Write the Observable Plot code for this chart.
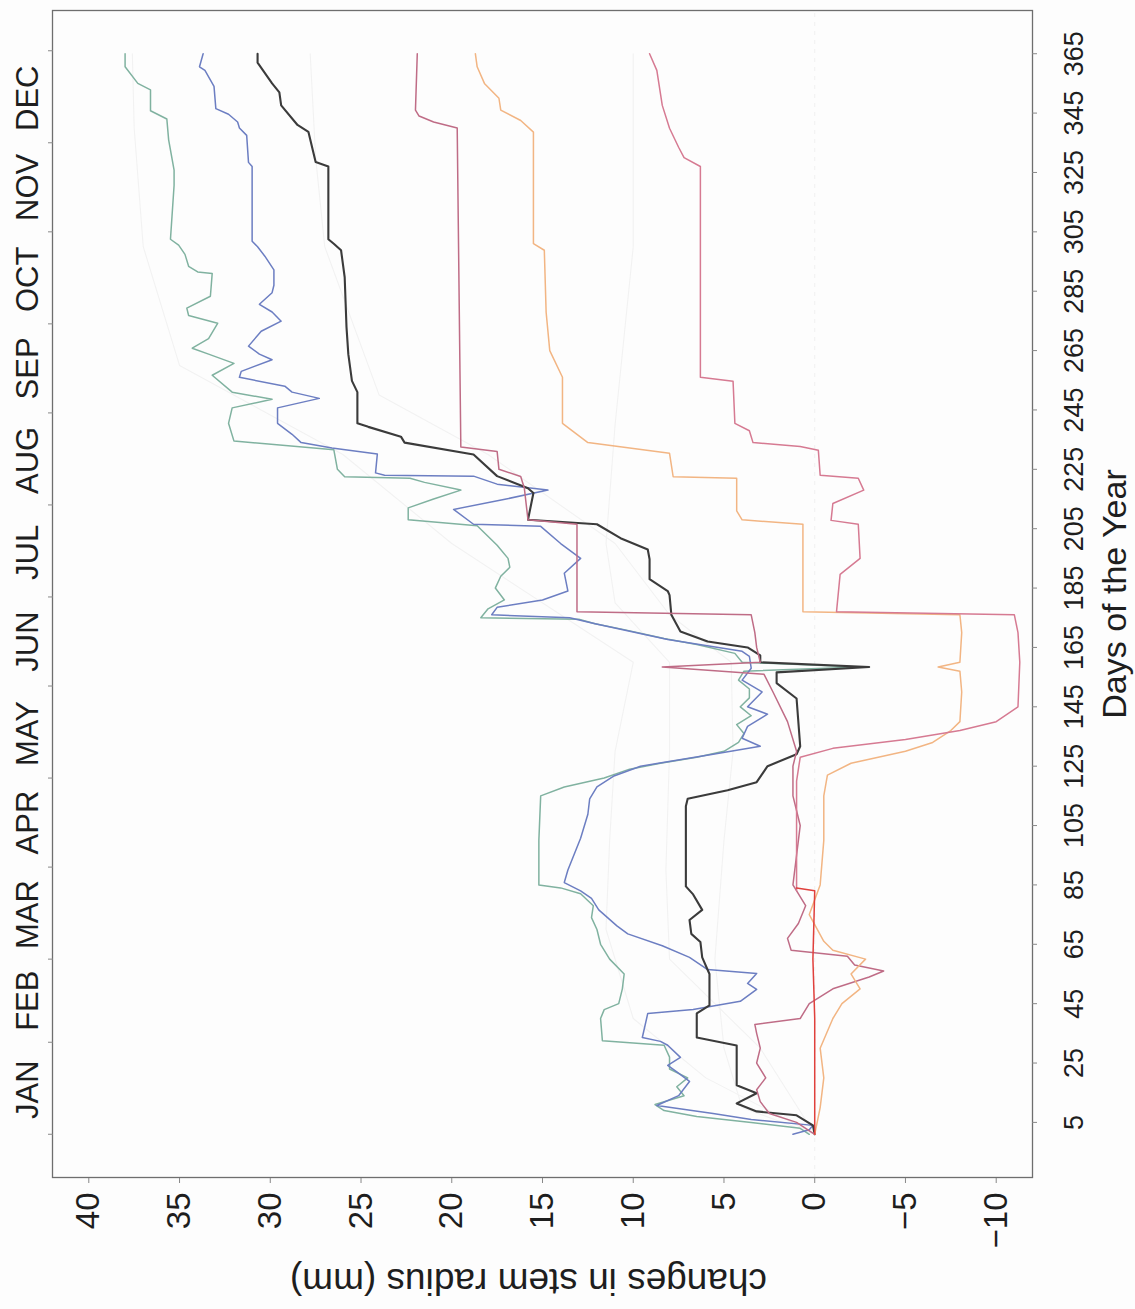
<!DOCTYPE html>
<html>
<head>
<meta charset="utf-8">
<script src="https://cdn.jsdelivr.net/npm/d3@7"></script>
<script src="https://cdn.jsdelivr.net/npm/@observablehq/plot@0.6"></script>
<style>
  html, body { margin: 0; padding: 0; background: #fdfdfd; }
  #page { position: relative; width: 1135px; height: 1309px; overflow: hidden; }
  /* the figure is laid out landscape and turned a quarter turn */
  #chart { position: absolute; left: 0; top: 0; width: 1309px; height: 1135px;
           transform-origin: 0 0; transform: translateY(1309px) rotate(-90deg); }
</style>
</head>
<body>
<div id="page"><div id="chart"></div></div>
<script>
// Cumulative change in stem radius (mm) by day of year, one array per tree: [day, mm]
const treeGreen = [[1,0.3],[3,0.8],[5,3.5],[7,6.5],[9,8.3],[11,8.8],[14,7.2],[17,7.6],[20,7.0],[23,8.0],[27,8.0],[31,8.3],[32.5,11.7],[40,11.8],[43,11.6],[45,10.8],[50,10.6],[55,10.5],[60,11.3],[65,11.8],[70,12.0],[74,12.3],[78,12.2],[82,12.9],[84,14.0],[85,15.2],[100,15.2],[115,15.1],[118,13.8],[121,11.6],[124,10.2],[126,8.5],[128,6.5],[130,5.0],[133,4.2],[136,3.9],[139,4.3],[142,3.5],[145,4.1],[148,3.6],[151,3.6],[154,4.2],[157,3.9],[158.4,-2.5],[160,4.0],[163,4.4],[166,6.5],[168,8.3],[171,10.5],[173,12.1],[174.5,13.0],[175,18.4],[178,18.0],[181,17.1],[185,17.6],[189,17.3],[192,16.8],[195,16.9],[199.4,17.5],[206,18.6],[208,22.4],[212,22.4],[215,21.0],[218,19.5],[220.6,21.5],[222,22.3],[222.5,25.9],[225,26.3],[231.6,26.5],[234.5,32.0],[240.5,32.3],[245.7,32.1],[248.6,29.9],[251,32.1],[256.7,33.2],[260.7,32.0],[263.8,33.4],[265.8,34.3],[269,33.4],[274.2,32.9],[276.8,34.5],[279.3,34.6],[283.3,33.3],[291,33.2],[291.5,34.0],[293.4,34.5],[297.4,34.7],[300.5,35.05],[302.5,35.5],[320.7,35.3],[325.8,35.3],[336,35.6],[343,35.7],[345.8,36.6],[352.8,36.6],[355,37.3],[360.6,38.0],[365,38.0]];

const treeBlue = [[1,1.2],[2.5,0.3],[4,0.1],[6,3.5],[8,5.6],[10.7,8.7],[14,7.5],[18.8,6.9],[22,7.6],[24.2,8.1],[26.9,7.4],[31,8.1],[32.3,8.5],[33.6,9.5],[41.7,9.2],[43,6.7],[45.8,4.1],[49.8,3.2],[51.8,3.7],[55.2,3.2],[56.5,5.9],[60.6,6.9],[64.5,8.4],[68.5,10.3],[71.2,10.9],[73.9,11.4],[76.6,11.9],[80.5,12.3],[83,12.9],[85.8,13.8],[90,13.6],[100.7,12.9],[108.8,12.5],[114,12.4],[118,12.0],[121.6,11.1],[125,9.6],[129,5.6],[131.7,3.0],[134.4,4.0],[138.4,3.7],[142.5,2.6],[145,3.7],[150,2.9],[154,4.0],[158,3.5],[162,3.6],[163.7,4.0],[167.7,8.1],[173,12.1],[175,13.5],[176,17.8],[178.5,17.5],[181,15.0],[184,13.6],[190,13.8],[195,12.9],[200,14.0],[205.8,15.1],[206.5,18.8],[211.5,19.9],[215,17.0],[218,14.7],[220,17.5],[222.7,18.8],[223,23.7],[223.8,24.2],[230.2,24.1],[232.2,26.6],[234,28.3],[236.8,28.8],[240.5,29.6],[245.7,29.6],[248.9,27.3],[251,28.8],[253,29.2],[256,31.7],[258,31.6],[261.9,29.9],[263.8,30.6],[266.5,31.2],[271.5,30.5],[274.9,29.4],[278,29.9],[280.6,30.6],[284.5,29.9],[287,29.8],[292.2,29.8],[296.8,30.3],[300,30.7],[301.8,31.0],[327,31.0],[328.4,31.2],[337.5,31.3],[340,31.7],[342,31.8],[344.6,32.3],[346.5,33.0],[354,33.1],[359.4,33.6],[360.6,33.9],[365,33.7]];

const treeBlack = [[1,0.0],[4,0.1],[7.4,1.0],[8.7,3.2],[11.4,4.3],[14.8,3.2],[17.5,4.3],[30.9,4.3],[33.6,6.5],[41.7,6.5],[44.4,5.8],[55,5.8],[60.6,6.2],[65.8,6.3],[68.5,6.8],[73.2,6.9],[76.6,6.2],[81.8,6.7],[84.5,7.1],[111.5,7.1],[114,7.0],[116.9,4.8],[119.6,3.2],[125,2.6],[129,1.0],[131.7,0.8],[147.8,1.0],[153,2.1],[156.6,2.1],[158.4,-3.0],[160,3.0],[162.3,3.0],[165,3.7],[167,5.9],[170.4,7.4],[176,7.9],[182.6,8.0],[184,8.1],[188,9.1],[194.7,9.1],[198,9.2],[201.8,10.7],[206.5,12.0],[208,15.8],[217,15.5],[218.6,15.8],[222.7,17.5],[230,18.8],[234,22.6],[236,22.8],[239.3,24.6],[240.5,25.2],[251,25.2],[254.8,25.5],[263.8,25.7],[272.9,25.8],[289.7,25.9],[298.8,26.1],[301,26.5],[302.5,26.8],[327,26.8],[328.5,27.5],[338.7,27.9],[341,28.5],[347.6,29.4],[352,29.5],[355,29.9],[362,30.7],[365,30.7]];

const treeMauve = [[1,0],[5,1.0],[8,2.5],[12,3.0],[16,3.2],[20,2.7],[25,3.2],[30,3.0],[35,3.2],[38,3.3],[40,0.8],[45,0.3],[50,-1.0],[54,-3.0],[56,-3.8],[58,-2.2],[61,-1.8],[63,1.3],[67,1.5],[72,0.9],[78,0.5],[85,1.2],[95,1.0],[105,0.8],[115,1.2],[125,1.2],[130,1.0],[140,1.5],[150,2.3],[156,2.8],[158.4,8.4],[160,3.0],[165,3.2],[170,3.3],[176,3.5],[177,13.1],[206.5,13.1],[208,15.8],[218.6,16.0],[222.6,16.2],[225,17.4],[231,17.5],[232.5,19.5],[340,19.7],[342,21.0],[344,21.8],[346,22.0],[365,21.9]];

const treeOrange = [[1,0],[10,-0.3],[20,-0.5],[30,-0.3],[40,-1.0],[45,-1.5],[50,-2.5],[55,-2.0],[60,-2.8],[63,-1.0],[66,-0.5],[75,0.3],[85,-0.3],[100,-0.5],[115,-0.5],[122,-0.7],[126,-2.0],[130,-5.0],[133,-6.5],[137,-7.5],[140,-8.0],[150,-8.1],[157,-8.0],[158.4,-6.8],[160,-8.0],[170,-8.1],[176,-8.0],[177,0.65],[206.5,0.65],[208,4.0],[211,4.3],[222,4.3],[222.5,7.8],[230.4,8.0],[234,12.5],[240.5,13.9],[256,13.9],[265,14.6],[277.9,14.8],[298.8,14.9],[301,15.5],[338.6,15.5],[342.5,16.2],[346,17.3],[350,17.4],[355,18.2],[360.6,18.6],[365,18.7]];

const treeRose = [[83,1.0],[100,1.0],[120,1.0],[128,0.8],[131,-1.0],[134,-5.0],[137,-8.0],[140,-10.0],[145,-11.2],[160,-11.3],[170,-11.2],[176,-11.0],[177,-1.2],[189.6,-1.4],[195,-2.5],[206.5,-2.4],[207.8,-0.9],[213.5,-1.0],[218,-2.7],[222,-2.4],[223,-0.3],[231.4,-0.2],[232.7,0.8],[234,3.4],[238,3.6],[240.5,4.4],[254.7,4.5],[256,6.3],[327,6.3],[330,7.2],[333.5,7.5],[339.9,8.0],[347.6,8.4],[359.4,8.7],[365,9.1]];

const treeRed = [[1,0],[20,0],[40,0],[60,0.1],[83,0.0],[84,1.0]];

// Pale background trees
const paleA = [[1,0],[10,4.0],[30,5.0],[60,5.5],[100,5.0],[130,4.5],[160,4.6],[176,8.0],[200,11.0],[230,18.0],[250,24.0],[300,27.0],[330,27.5],[365,27.8]];
const paleB = [[1,0],[20,6.0],[40,10.0],[70,11.5],[100,11.3],[130,11.0],[160,10.0],[176,14.0],[200,20.0],[230,26.0],[260,35.0],[300,37.0],[340,37.5],[365,37.6]];
const paleC = [[1,0],[30,3.0],[60,8.0],[90,8.2],[130,8.0],[160,8.0],[180,11.0],[200,11.5],[240,11.0],[300,10.0],[365,10.0]];

const seriesNames = ["paleA", "paleB", "paleC", "green", "blue", "black", "mauve", "orange", "rose", "red"];
const seriesData = [paleA, paleB, paleC, treeGreen, treeBlue, treeBlack, treeMauve, treeOrange, treeRose, treeRed];
const seriesColors = ["#f2f2f2", "#f2f2f2", "#f2f2f2", "#80b2a0", "#6c7ec2", "#3b3b3b", "#bf6c86", "#f2b583", "#d67a92", "#e0403c"];
const seriesWidths = [1.1, 1.1, 1.1, 1.5, 1.5, 2.1, 1.5, 1.5, 1.5, 1.5];

// Axis ticks and month labels
const dayTicks = d3.range(5, 366, 20);
const mmTicks = d3.range(-10, 41, 5);
const monthStarts = [1, 32, 60, 91, 121, 152, 182, 213, 244, 274, 305, 335, 366];
const monthMids = [16, 46, 75, 106, 136, 167, 197, 228, 259, 289, 320, 350];
const monthNames = ["JAN", "FEB", "MAR", "APR", "MAY", "JUN", "JUL", "AUG", "SEP", "OCT", "NOV", "DEC"];

const rows = seriesData.flatMap((s, k) => s.map(([day, mm]) => ({tree: seriesNames[k], day, mm})));
const monthRows = monthNames.map((m, i) => ({m, day: monthMids[i]}));

const chart = Plot.plot({
  width: 1309,
  height: 1135,
  marginLeft: 131,
  marginRight: 11,
  marginTop: 52,
  marginBottom: 103,
  x: {domain: [-13.56, 379.56]},
  y: {domain: [-12, 42]},
  style: {fontFamily: "'Liberation Sans', Arial, sans-serif", color: "#1e1e1e", background: "transparent"},
  marks: [
    Plot.ruleY([0], {stroke: "#f0f0f0", strokeDasharray: "4,5"}),
    ...seriesNames.map((name, k) => Plot.line(rows.filter(r => r.tree === name), {
      x: "day", y: "mm", stroke: seriesColors[k], strokeWidth: seriesWidths[k], strokeLinejoin: "round"
    })),
    Plot.frame({stroke: "#6e6e6e", strokeWidth: 1.3}),
    Plot.axisX({anchor: "bottom", ticks: dayTicks, tickSize: 5, tickPadding: 26, fontSize: 27, label: null, stroke: "#888"}),
    Plot.axisY({anchor: "left", ticks: mmTicks, tickSize: 5, tickPadding: 10, fontSize: 33, label: null, stroke: "#888"}),
    Plot.axisX({anchor: "top", ticks: monthStarts, tickSize: 5, tickFormat: () => "", label: null, stroke: "#888"}),
    Plot.text(monthRows, {x: "day", text: "m", frameAnchor: "top", lineAnchor: "middle", dy: -24, fontSize: 31}),
    Plot.text(["Days of the Year"], {frameAnchor: "bottom", lineAnchor: "middle", dy: 83, fontSize: 34}),
    Plot.text(["changes in stem radius (mm)"], {frameAnchor: "left", textAnchor: "middle", lineAnchor: "middle", dx: -103, dy: -14, rotate: -90, fontSize: 37})
  ]
});

document.getElementById("chart").append(chart);
</script>
</body>
</html>
